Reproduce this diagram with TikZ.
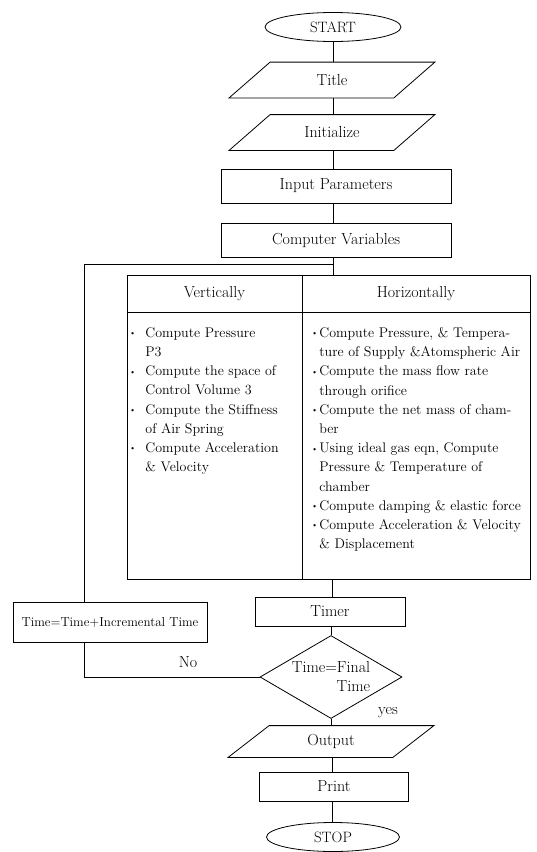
\documentclass[tikz,border=0pt]{standalone}
\usepackage{fontspec}
\usetikzlibrary{shapes.geometric}
\newcommand\bul[1]{\makebox[#1][l]{\raisebox{0.25ex}{\fontsize{8}{8}\selectfont\textbullet}}}
\begin{document}
\begin{tikzpicture}[x=1pt,y=-1pt, line width=0.8pt,
  lbl/.style={font=\fontsize{16}{19}\selectfont},
  term/.style={ellipse, draw, minimum width=136pt, minimum height=29pt, inner sep=0, font=\fontsize{15}{18}\selectfont},
  box/.style={rectangle, draw, inner sep=0, lbl},
  paranode/.style={rectangle, draw=none, inner sep=0, minimum width=164pt, minimum height=35pt, lbl},
  cell/.style={rectangle, draw, inner sep=0},
  body/.style={anchor=north west, inner sep=0, align=left, font=\fontsize{14}{19.2}\selectfont},
]
\useasboundingbox (0,0) rectangle (536,852);
\fill[white] (0,0) rectangle (536,852);

\node[term] (start) at (333,27) {START};
\node[paranode] (title) at (332,80) {Title};
\node[paranode] (init) at (332,132.5) {Initialize};
\node[box, minimum width=230pt, minimum height=34pt] (input) at (336,186) {Input Parameters};
\node[box, minimum width=230pt, minimum height=34pt] (cv) at (336,240) {Computer Variables};

\node[cell, lbl, minimum width=175pt, minimum height=37pt] (vhead) at (214.5,293.5) {Vertically};
\node[cell, lbl, minimum width=228pt, minimum height=37pt] (hhead) at (416,293.5) {Horizontally};
\node[cell, minimum width=175pt, minimum height=267pt] (vbody) at (214.5,445.5) {};
\node[cell, minimum width=228pt, minimum height=267pt] (hbody) at (416,445.5) {};

\node[body] (vtext) at (129,327) {\bul{16pt}Compute Pressure\\
\hspace*{16pt}P3\\
\bul{16pt}Compute the space of\\
\hspace*{16pt}Control Volume 3\\
\bul{16pt}Compute the Stiffness\\
\hspace*{16pt}of Air Spring\\
\bul{16pt}Compute Acceleration\\
\hspace*{16pt}\& Velocity};

\node[body] (htext) at (311,327) {\bul{8pt}Compute Pressure, \& Tempera-\\
\hspace*{8pt}ture of Supply \&Atomspheric Air\\
\bul{8pt}Compute the mass flow rate\\
\hspace*{8pt}through orifice\\
\bul{8pt}Compute the net mass of cham-\\
\hspace*{8pt}ber\\
\bul{8pt}Using ideal gas eqn, Compute\\
\hspace*{8pt}Pressure \& Temperature of\\
\hspace*{8pt}chamber\\
\bul{8pt}Compute damping \& elastic force\\
\bul{8pt}Compute Acceleration \& Velocity\\
\hspace*{8pt}\& Displacement};

\node[box, minimum width=150pt, minimum height=29pt] (timer) at (330,611.5) {Timer};
\node[diamond, draw, minimum width=142pt, minimum height=83pt, inner sep=0, aspect=1.71, lbl, align=right] (dec) at (331,677) {Time=Final\\Time};
\node[box, minimum width=194pt, minimum height=40pt, font=\fontsize{13}{15}\selectfont] (tbox) at (110,622) {Time=Time+Incremental Time};
\node[paranode, minimum height=31pt] (out) at (331,741.5) {Output};
\node[box, minimum width=149pt, minimum height=29pt] (print) at (334,786.5) {Print};
\node[term, minimum width=133pt] (stop) at (333,837) {STOP};

\node[lbl] (no) at (188,662) {No};
\node[lbl] (yes) at (388,713) {yes};

\foreach \n in {title,init,out}
  \draw ([xshift=-20.5pt]\n.south west) -- ([xshift=-20.5pt]\n.south east)
     -- ([xshift=20.5pt]\n.north east) -- ([xshift=20.5pt]\n.north west) -- cycle;

\coordinate (sp) at (333,0);
\coordinate (sp2) at (332,0);
\coordinate (J) at (333,264);
\coordinate (L) at (84,264);

\draw (start.south) -- (start.south |- title.north);
\draw (title.south -| sp) -- (init.north -| sp);
\draw (init.south -| sp) -- (input.north -| sp);
\draw (input.south -| sp) -- (cv.north -| sp);
\draw (cv.south -| sp) -- (hhead.north -| sp);
\draw (J) -- (L) -- (L |- tbox.north);
\draw (L |- tbox.south) -- (L |- dec.west) -- (dec.west);
\draw (hbody.south -| sp2) -- (timer.north -| sp2);
\draw (timer.south -| dec.north) -- (dec.north);
\draw (dec.south) -- (dec.south |- out.north);
\draw (out.south -| sp2) -- (print.north -| sp2);
\draw (print.south -| sp2) -- (stop.north -| sp2);
\end{tikzpicture}
\end{document}
